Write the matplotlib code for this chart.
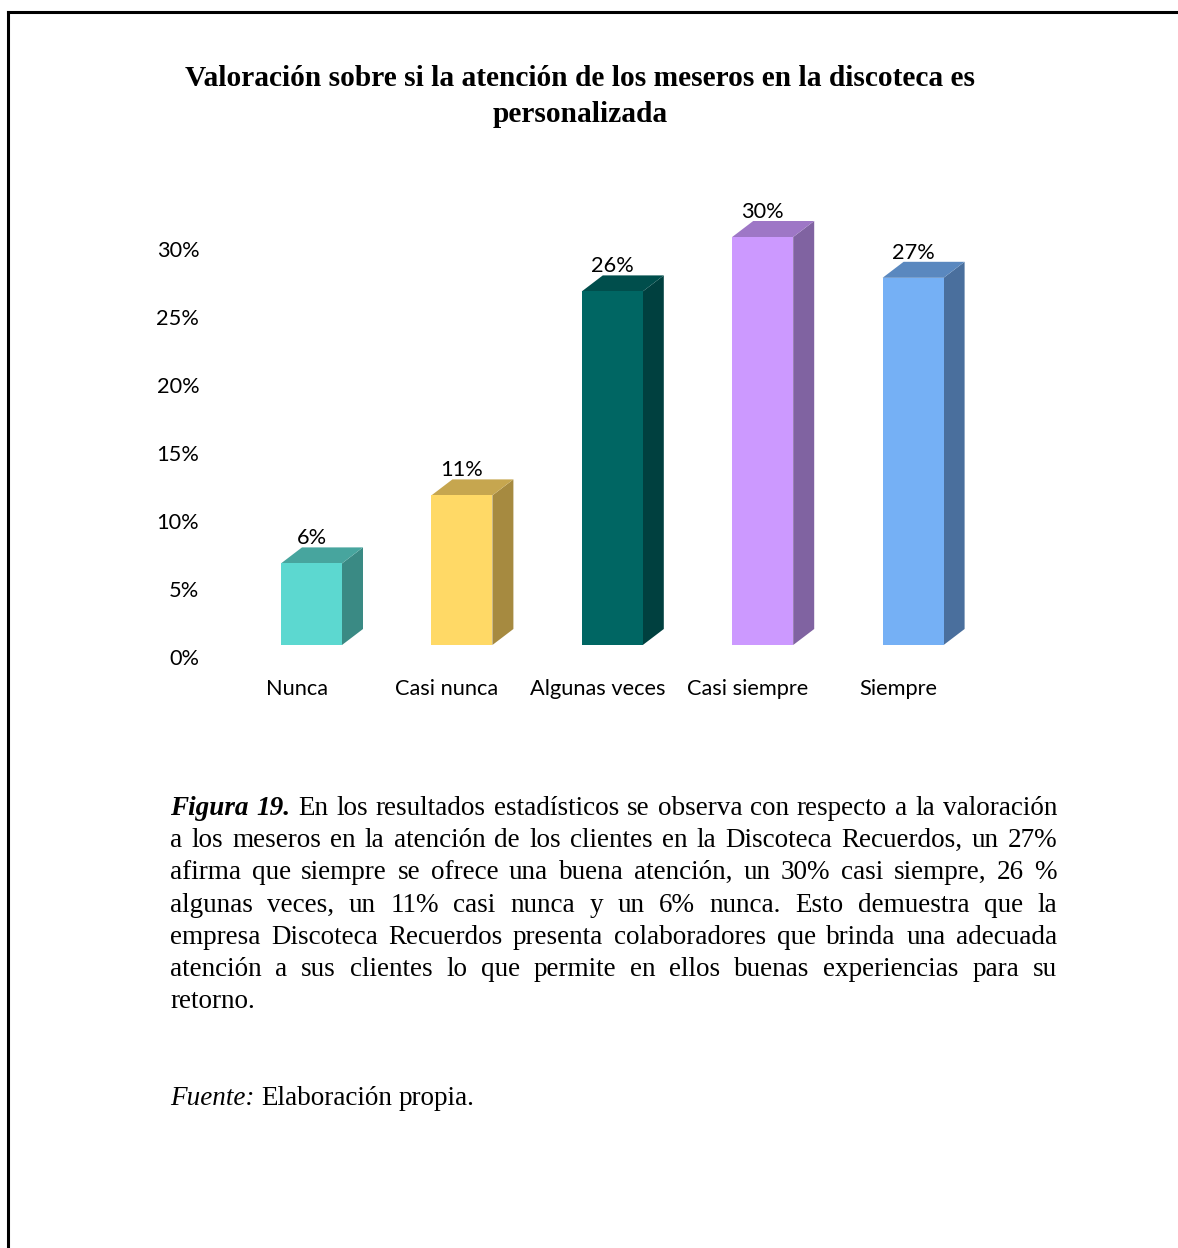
import matplotlib
matplotlib.use("Agg")
import matplotlib.pyplot as plt
from matplotlib.patches import Polygon
from matplotlib.lines import Line2D

# chart data
categories = ["Nunca", "Casi nunca", "Algunas veces", "Casi siempre", "Siempre"]
values = [6, 11, 26, 30, 27]
value_labels = ["6%", "11%", "26%", "30%", "27%"]
yticks = [0, 5, 10, 15, 20, 25, 30]
ytick_labels = ["0%", "5%", "10%", "15%", "20%", "25%", "30%"]

front_colors = ["#5CD8D0", "#FFD966", "#006663", "#CC99FF", "#75B0F5"]
top_colors = ["#47A59E", "#C6A64F", "#004E4C", "#9E77C6", "#5A88BF"]
side_colors = ["#3A8A84", "#A68A40", "#00403F", "#8063A1", "#4A6F9D"]

title_lines = ["Valoración sobre si la atención de los meseros en la discoteca es",
               "personalizada"]

caption_lines = [
    "Figura 19. En los resultados estadísticos se observa con respecto a la valoración",
    "a los meseros en la atención de los clientes en la Discoteca Recuerdos, un 27%",
    "afirma que siempre se ofrece una buena atención, un 30% casi siempre, 26 %",
    "algunas veces, un 11% casi nunca y un 6% nunca. Esto demuestra que la",
    "empresa Discoteca Recuerdos presenta colaboradores que brinda una adecuada",
    "atención a sus clientes lo que permite en ellos buenas experiencias para su",
    "retorno.",
]

W, H = 1178, 1248
SERIF = "Liberation Serif"
SANS = "Lato"
CHART_FS = 15.7

fig = plt.figure(figsize=(W / 100, H / 100), dpi=100)


def fx(px):
    return px / W


def fy(py):
    return 1 - py / H


# page frame (top and left edge)
fig.add_artist(Line2D([fx(8), 1.0], [fy(12), fy(12)], color="black", lw=2.2))
fig.add_artist(Line2D([fx(8), fx(8)], [fy(12), 0.0], color="black", lw=2.2))

# title
fig.text(fx(580), fy(78), title_lines[0], ha="center", va="center",
         fontsize=21.2, fontweight="bold", family=SERIF)
fig.text(fx(580), fy(114), title_lines[1], ha="center", va="center",
         fontsize=21.2, fontweight="bold", family=SERIF)

# chart axes: x in category index, y in percent
ax_left, ax_right = 236.3, 988.3
ax_bottom, ax_top = 645, 645 - 13.6 * 32
ax = fig.add_axes([fx(ax_left), fy(ax_bottom), (ax_right - ax_left) / W,
                   (ax_bottom - ax_top) / H])
ax.set_xlim(-0.5, 4.5)
ax.set_ylim(0, 32)
ax.axis("off")

px_x = (ax_right - ax_left) / 5.0
px_y = 13.6
half = 30.5 / px_x
dx = 21 / px_x
dy = 16 / px_y

for i, v in enumerate(values):
    x0, x1 = i - half, i + half
    side = [(x1, 0), (x1 + dx, dy), (x1 + dx, v + dy), (x1, v)]
    top = [(x0, v), (x1, v), (x1 + dx, v + dy), (x0 + dx, v + dy)]
    front = [(x0, 0), (x1, 0), (x1, v), (x0, v)]
    ax.add_patch(Polygon(side, closed=True, facecolor=side_colors[i], edgecolor="none", clip_on=False))
    ax.add_patch(Polygon(top, closed=True, facecolor=top_colors[i], edgecolor="none", clip_on=False))
    ax.add_patch(Polygon(front, closed=True, facecolor=front_colors[i], edgecolor="none", clip_on=False))
    ax.annotate(value_labels[i], xy=(i, v), xytext=(0, 25 * 0.72), textcoords="offset points",
                ha="center", va="center", fontsize=CHART_FS, family=SANS, color="black",
                annotation_clip=False)
    ax.annotate(categories[i], xy=(i, 0), xytext=(-15 * 0.72, -44 * 0.72), textcoords="offset points",
                ha="center", va="center", fontsize=CHART_FS, family=SANS, color="black",
                annotation_clip=False)

for v, lab in zip(yticks, ytick_labels):
    ax.annotate(lab, xy=(0, v), xycoords=ax.get_yaxis_transform(),
                xytext=(-37 * 0.72, -13.5 * 0.72), textcoords="offset points",
                ha="right", va="center", fontsize=CHART_FS, family=SANS, color="black",
                annotation_clip=False)

# caption, justified between two margins
cap_left, cap_right = 170, 1057
cap_size = 19.5
renderer = fig.canvas.get_renderer()


def place_line(words, styles, y_base, justify):
    texts = []
    for w, st in zip(words, styles):
        t = fig.text(0, fy(y_base), w, ha="left", va="baseline", fontsize=cap_size,
                     family=SERIF, **st)
        texts.append(t)
    widths = [t.get_window_extent(renderer).width for t in texts]
    if justify and len(texts) > 1:
        gap = (cap_right - cap_left - sum(widths)) / (len(texts) - 1)
    else:
        gap = cap_size * 100 / 72 * 0.25
    x = cap_left
    for t, wd in zip(texts, widths):
        t.set_x(fx(x))
        x += wd + gap


line_y0 = 815
for k, line in enumerate(caption_lines):
    words = line.split(" ")
    styles = [{} for _ in words]
    if k == 0:
        styles[0] = {"fontweight": "bold", "style": "italic"}
        styles[1] = {"fontweight": "bold", "style": "italic"}
    place_line(words, styles, line_y0 + k * 32.2, justify=(k < len(caption_lines) - 1))

place_line(["Fuente:", "Elaboración", "propia."], [{"style": "italic"}, {}, {}], 1105, justify=False)

fig.savefig("out.png", dpi=100)
